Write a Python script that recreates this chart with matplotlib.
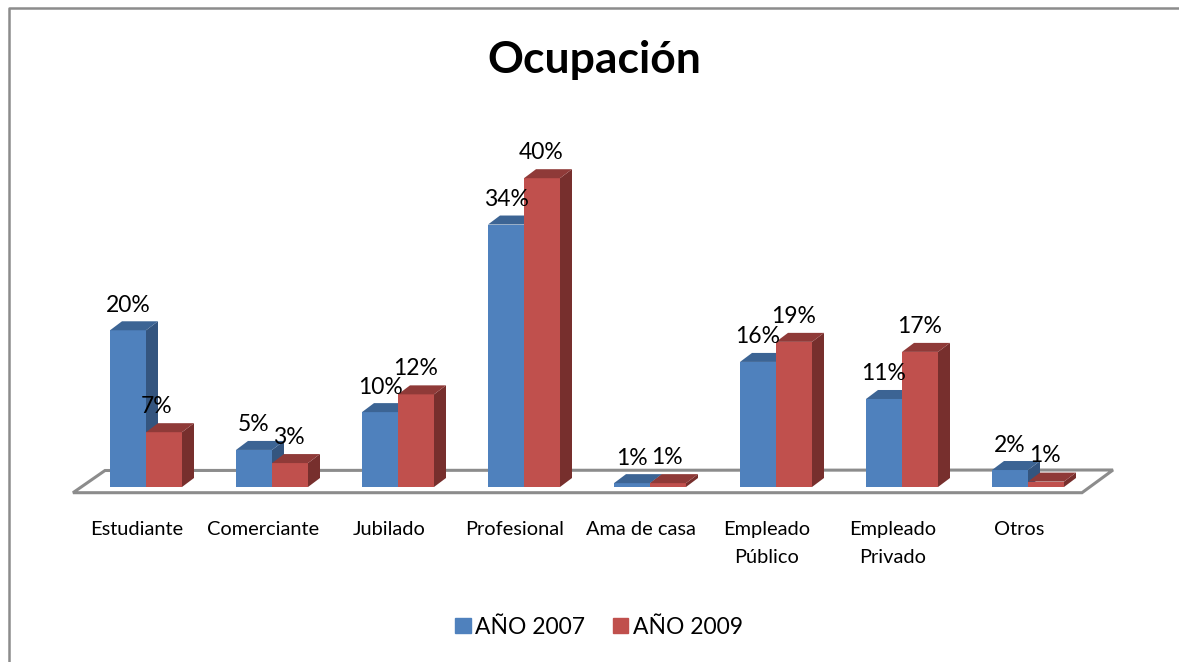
import numpy as np
import matplotlib
matplotlib.use('Agg')
import matplotlib.pyplot as plt
from matplotlib.patches import Polygon, Patch

plt.rcParams['font.family'] = ['Lato', 'DejaVu Sans']

# data
categorias = ['Estudiante', 'Comerciante', 'Jubilado', 'Profesional', 'Ama de casa',
              'Empleado\nPúblico', 'Empleado\nPrivado', 'Otros']
valores_2007 = [20.3, 4.8, 9.7, 34.0, 0.5, 16.2, 11.4, 2.2]
valores_2009 = [7.1, 3.1, 12.0, 40.0, 0.5, 18.8, 17.5, 0.7]
etiquetas_2007 = ['20%', '5%', '10%', '34%', '1%', '16%', '11%', '2%']
etiquetas_2009 = ['7%', '3%', '12%', '40%', '1%', '19%', '17%', '1%']

W, H = 1179, 662
PX_X = 126.0    # pixels per category
PX_Y = 7.72     # pixels per percent point
X0, Y0 = 146, 487   # pixel of category 0, value 0

fig = plt.figure(figsize=(W / 100, H / 100), dpi=100)
ax = fig.add_axes([0, 0, 1, 1])
ax.set_xlim(-X0 / PX_X, (W - X0) / PX_X)
ax.set_ylim((Y0 - H) / PX_Y, Y0 / PX_Y)
ax.axis('off')

ancho = 36 / PX_X
dx = 12 / PX_X   # bar depth
dy = 9 / PX_Y

# chart border (only left and top show)
fig.add_artist(plt.Line2D([8.5 / W, 8.5 / W, 1], [0, 1 - 8 / H, 1 - 8 / H], color='#8c8c8c', lw=1.8))

# floor
piso_x = [-73 / PX_X, -41 / PX_X, 967 / PX_X, 936 / PX_X]
piso_y = [-5.7 / PX_Y, 16.5 / PX_Y, 17 / PX_Y, -5.7 / PX_Y]
ax.add_patch(Polygon(np.column_stack([piso_x, piso_y]), closed=True, fc='white', ec='#8c8c8c', lw=2.2, zorder=1))


def barra(x, v, frente, lado, arriba, z):
    ax.bar(x, v, ancho, align='edge', color=frente, zorder=z)
    ax.add_patch(Polygon([(x + ancho, 0), (x + ancho + dx, dy), (x + ancho + dx, v + dy), (x + ancho, v)],
                         fc=lado, ec='none', zorder=z))
    ax.add_patch(Polygon([(x, v), (x + dx, v + dy), (x + ancho + dx, v + dy), (x + ancho, v)],
                         fc=arriba, ec='none', zorder=z))


for i in range(len(categorias)):
    barra(i - ancho, valores_2007[i], '#4f81bd', '#34557f', '#3c6494', 2 + i * 0.1)
    barra(i, valores_2009[i], '#c0504d', '#772f2d', '#8f3a38', 2.05 + i * 0.1)
    ax.annotate(etiquetas_2007[i], (i - ancho / 2, valores_2007[i]), xytext=(0, 18), textcoords='offset points',
                ha='center', va='center', fontsize=16.5, color='black', zorder=10)
    # the 7% label sits further left in the original
    off = -5 if i == 0 else -0.5
    ax.annotate(etiquetas_2009[i], (i + ancho / 2, valores_2009[i]), xytext=(off, 18.5), textcoords='offset points',
                ha='center', va='center', fontsize=16.5, color='black', zorder=10)
    ax.annotate(categorias[i], (i, 0), xytext=(-6.5, -24.5), textcoords='offset points',
                ha='center', va='top', fontsize=14.4, linespacing=1.8, color='black')

fig.text(594 / W, 1 - 60 / H, 'Ocupación', ha='center', va='center', fontsize=32, fontweight='bold')

handles = [Patch(color='#4f81bd', label='AÑO 2007'), Patch(color='#c0504d', label='AÑO 2009')]
fig.legend(handles=handles, loc='center', bbox_to_anchor=(599 / W, 1 - 627 / H), ncol=2, frameon=False,
           fontsize=16.5, handlelength=0.68, handleheight=0.68, handletextpad=0.2, columnspacing=1.2)

fig.savefig('out.png', dpi=100)
